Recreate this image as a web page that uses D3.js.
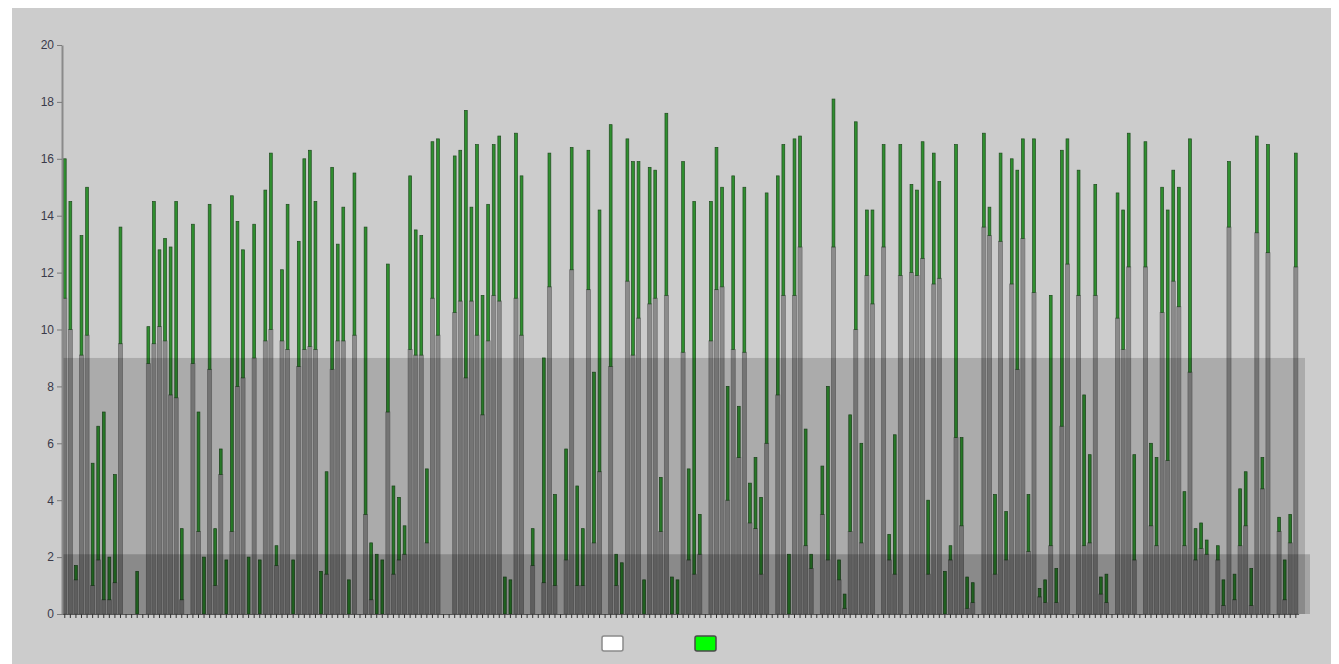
<!DOCTYPE html>
<html>
<head>
<meta charset="utf-8">
<script src="https://cdn.jsdelivr.net/npm/d3@7"></script>
<style>
  html, body { margin: 0; padding: 0; background: #ffffff; }
  svg { display: block; }
</style>
</head>
<body>
<svg id="chart" width="1339" height="664"></svg>
<script>
// Lower bound of each range (grey column runs from 0 up to it); null = no value
const lowValues = [
  11.1, 10.0, 1.2, 9.1, 9.8, 1.0, 1.9, 0.5, 0.5, 1.1,
  9.5, null, null, 0, null, 8.8, 9.5, 10.1, 9.6, 7.7,
  7.6, 0.5, null, 8.8, 2.9, 0, 8.6, 1.0, 4.9, 0,
  2.9, 8.0, 8.3, 0, 9.0, 0, 9.6, 10.0, 1.7, 9.6,
  9.3, 0, 8.7, 9.3, 9.4, 9.3, 0, 1.4, 8.6, 9.6,
  9.6, 0, 9.8, null, 3.5, 0.5, 0, 0, 7.1, 1.4,
  1.9, 2.1, 9.3, 9.1, 9.1, 2.5, 11.1, 9.8, null, null,
  10.6, 11.0, 8.3, 11.0, 9.8, 7.0, 9.6, 11.2, 11.0, 0,
  0, 11.1, 9.8, null, 1.7, null, 1.1, 11.5, 1.0, null,
  1.9, 12.1, 1.0, 1.0, 11.4, 2.5, 5.0, null, 8.7, 1.0,
  0, 11.7, 9.1, 10.4, 0, 10.9, 11.1, 2.9, 11.2, 0,
  0, 9.2, 1.9, 1.4, 2.1, null, 9.6, 11.4, 11.5, 4.0,
  9.3, 5.5, 9.2, 3.2, 3.0, 1.4, 6.0, null, 7.7, 11.2,
  0, 11.2, 12.9, 2.4, 1.6, null, 3.5, 1.9, 12.9, 1.2,
  0.2, 2.9, 10.0, 2.5, 11.9, 10.9, null, 12.9, 1.9, 1.4,
  11.9, null, 12.0, 11.9, 12.5, 1.4, 11.6, 11.8, 0, 1.9,
  6.2, 3.1, 0.2, 0.4, null, 13.6, 13.3, 1.4, 13.1, 1.9,
  11.6, 8.6, 13.2, 2.2, 11.3, 0.6, 0.4, 2.4, 0.4, 6.6,
  12.3, null, 11.2, 2.4, 2.5, 11.2, 0.7, 0.4, null, 10.4,
  9.3, 12.2, 1.9, null, 12.2, 3.1, 2.4, 10.6, 5.4, 11.7,
  10.8, 2.4, 8.5, 1.9, 2.3, 2.1, null, 1.9, 0.3, 13.6,
  0.5, 2.4, 3.1, 0.3, 13.4, 4.4, 12.7, null, 2.9, 0.5,
  2.5, 12.2
];

// Upper bound of each range (top of the green bar)
const highValues = [
  16.0, 14.5, 1.7, 13.3, 15.0, 5.3, 6.6, 7.1, 2.0, 4.9,
  13.6, null, null, 1.5, null, 10.1, 14.5, 12.8, 13.2, 12.9,
  14.5, 3.0, null, 13.7, 7.1, 2.0, 14.4, 3.0, 5.8, 1.9,
  14.7, 13.8, 12.8, 2.0, 13.7, 1.9, 14.9, 16.2, 2.4, 12.1,
  14.4, 1.9, 13.1, 16.0, 16.3, 14.5, 1.5, 5.0, 15.7, 13.0,
  14.3, 1.2, 15.5, null, 13.6, 2.5, 2.1, 1.9, 12.3, 4.5,
  4.1, 3.1, 15.4, 13.5, 13.3, 5.1, 16.6, 16.7, null, null,
  16.1, 16.3, 17.7, 14.3, 16.5, 11.2, 14.4, 16.5, 16.8, 1.3,
  1.2, 16.9, 15.4, null, 3.0, null, 9.0, 16.2, 4.2, null,
  5.8, 16.4, 4.5, 3.0, 16.3, 8.5, 14.2, null, 17.2, 2.1,
  1.8, 16.7, 15.9, 15.9, 1.2, 15.7, 15.6, 4.8, 17.6, 1.3,
  1.2, 15.9, 5.1, 14.5, 3.5, null, 14.5, 16.4, 15.0, 8.0,
  15.4, 7.3, 15.0, 4.6, 5.5, 4.1, 14.8, null, 15.4, 16.5,
  2.1, 16.7, 16.8, 6.5, 2.1, null, 5.2, 8.0, 18.1, 1.9,
  0.7, 7.0, 17.3, 6.0, 14.2, 14.2, null, 16.5, 2.8, 6.3,
  16.5, null, 15.1, 14.9, 16.6, 4.0, 16.2, 15.2, 1.5, 2.4,
  16.5, 6.2, 1.3, 1.1, null, 16.9, 14.3, 4.2, 16.2, 3.6,
  16.0, 15.6, 16.7, 4.2, 16.7, 0.9, 1.2, 11.2, 1.6, 16.3,
  16.7, null, 15.6, 7.7, 5.6, 15.1, 1.3, 1.4, null, 14.8,
  14.2, 16.9, 5.6, null, 16.6, 6.0, 5.5, 15.0, 14.2, 15.6,
  15.0, 4.3, 16.7, 3.0, 3.2, 2.6, null, 2.4, 1.2, 15.9,
  1.4, 4.4, 5.0, 1.6, 16.8, 5.5, 16.5, null, 3.4, 1.9,
  3.5, 16.2
];

const categories = lowValues.map((_, i) => String(i + 1));
const yTickValues = [0, 2, 4, 6, 8, 10, 12, 14, 16, 18, 20];

// Shaded reference bands (upper value of each, starting from 0)
const bandUpper = [9, 2.1];

const svg = d3.select("#chart");

// panel background
svg.append("rect")
  .attr("x", 12).attr("y", 8)
  .attr("width", 1319).attr("height", 656)
  .attr("fill", "#cccccc");

const x = d3.scaleBand().domain(categories).range([62, 1298.6]).padding(0);
const y = d3.scaleLinear().domain([0, 20]).range([614, 45]);
const bw = x.bandwidth();

const rows = categories.map((c, i) => ({ c, low: lowValues[i], high: highValues[i] }))
  .filter(d => d.high !== null);

// grey columns from 0 up to the lower bound
svg.append("g").selectAll("rect")
  .data(rows.filter(d => d.low > 0))
  .join("rect")
  .attr("x", d => x(d.c) + bw / 2 - 2.0)
  .attr("y", d => y(d.low))
  .attr("width", 4.0)
  .attr("height", d => y(0) - y(d.low))
  .attr("fill", "#8b8b8b")
  .attr("stroke", "#747474")
  .attr("stroke-width", 0.8);

// green range bars
svg.append("g").selectAll("rect")
  .data(rows)
  .join("rect")
  .attr("x", d => x(d.c) + bw / 2 - 1.4)
  .attr("y", d => y(d.high))
  .attr("width", 2.8)
  .attr("height", d => y(d.low) - y(d.high))
  .attr("fill", "#2f8f2f")
  .attr("stroke", "#1f4a1f")
  .attr("stroke-width", 0.7);

// translucent bands laid over the bars
const bandRight = [1305, 1310];
const bandOpacity = [0.16, 0.19];
svg.append("g").selectAll("rect")
  .data(bandUpper)
  .join("rect")
  .attr("x", 62)
  .attr("y", d => y(d))
  .attr("width", (d, i) => bandRight[i] - 62)
  .attr("height", d => y(0) - y(d))
  .attr("fill", "#000000")
  .attr("fill-opacity", (d, i) => bandOpacity[i]);

// y axis
const yAxis = svg.append("g")
  .attr("transform", "translate(62,0)")
  .call(d3.axisLeft(y).tickValues(yTickValues).tickSize(5).tickPadding(3).tickSizeOuter(0));
yAxis.select(".domain").attr("stroke", "#8a8a8a").attr("stroke-width", 2);
yAxis.selectAll(".tick line").attr("stroke", "#7a7a7a");
yAxis.selectAll(".tick text")
  .attr("fill", "#3a3a4a")
  .style("font-family", "Arial, 'Liberation Sans', sans-serif")
  .style("font-size", "12px");

// x axis with a tick per category, no labels
const xAxis = svg.append("g")
  .attr("transform", "translate(0,614)")
  .call(d3.axisBottom(x).tickSize(4).tickSizeOuter(0).tickFormat(""));
xAxis.select(".domain").attr("stroke", "#555555");
xAxis.selectAll(".tick line").attr("stroke", "#333333");

// legend swatches
const legendFills = ["#ffffff", "#00ff00"];
const legendX = [602, 695];
svg.append("g").selectAll("rect")
  .data(legendFills)
  .join("rect")
  .attr("x", (d, i) => legendX[i])
  .attr("y", 636)
  .attr("width", 21)
  .attr("height", 15)
  .attr("rx", 2)
  .attr("fill", d => d)
  .attr("stroke", (d, i) => i === 0 ? "#8a8a8a" : "#4a4a4a")
  .attr("stroke-width", 1.5);
</script>
</body>
</html>
